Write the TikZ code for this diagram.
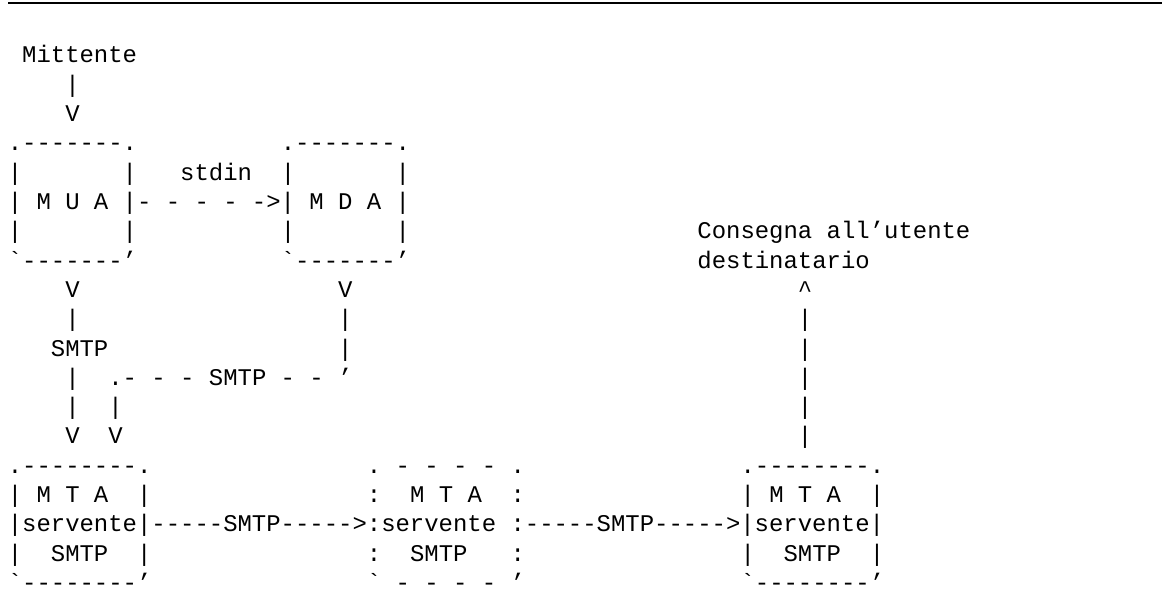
\documentclass[tikz,border=0pt]{standalone}
\usepackage{fontspec}
\setmonofont{Liberation Mono}
\newcommand\tk[4]{\node[txt] (#1) at ({7.8+14.367*#2},{614-63-29.3*(#3-1)}) {#4};}
\begin{document}
\begin{tikzpicture}[x=1pt,y=1pt,
  txt/.style={anchor=base west,inner sep=0pt,outer sep=0pt,
    font=\ttfamily\fontsize{23.94pt}{29.3pt}\selectfont}]
\useasboundingbox (0,0) rectangle (1167,614);
\coordinate (rl) at (8,611);
\coordinate (rr) at (1162,611);
\draw[line width=2pt] (rl) -- (rr);
% row 1-3
\tk{mitt}{1}{1}{Mittente}
\tk{r2a}{4}{2}{|}
\tk{r3a}{4}{3}{V}
% row 4
\tk{muaTop}{0}{4}{.-------.}
\tk{mdaTop}{19}{4}{.-------.}
% row 5
\tk{r5a}{0}{5}{|}
\tk{r5b}{8}{5}{|}
\tk{stdin}{12}{5}{stdin}
\tk{r5c}{19}{5}{|}
\tk{r5d}{27}{5}{|}
% row 6
\tk{r6}{0}{6}{| M U A |- - - - ->| M D A |}
% row 7
\tk{r7a}{0}{7}{|}
\tk{r7b}{8}{7}{|}
\tk{r7c}{19}{7}{|}
\tk{r7d}{27}{7}{|}
\tk{cons}{48}{7}{Consegna all’utente}
% row 8
\tk{muaBot}{0}{8}{`-------’}
\tk{mdaBot}{19}{8}{`-------’}
\tk{dest}{48}{8}{destinatario}
% row 9
\tk{r9a}{4}{9}{V}
\tk{r9b}{23}{9}{V}
\tk{r9c}{55}{9}{\textasciicircum}
% row 10
\tk{r10a}{4}{10}{|}
\tk{r10b}{23}{10}{|}
\tk{r10c}{55}{10}{|}
% row 11
\tk{smtpA}{3}{11}{SMTP}
\tk{r11b}{23}{11}{|}
\tk{r11c}{55}{11}{|}
% row 12
\tk{r12a}{4}{12}{|}
\tk{smtpB}{7}{12}{.- - - SMTP - - ’}
\tk{r12c}{55}{12}{|}
% row 13
\tk{r13a}{4}{13}{|}
\tk{r13b}{7}{13}{|}
\tk{r13c}{55}{13}{|}
% row 14
\tk{r14a}{4}{14}{V}
\tk{r14b}{7}{14}{V}
\tk{r14c}{55}{14}{|}
% row 15
\tk{mta1Top}{0}{15}{.--------.}
\tk{mta2Top}{25}{15}{. - - - - .}
\tk{mta3Top}{51}{15}{.--------.}
% row 16
\tk{r16a}{0}{16}{| M T A}
\tk{r16b}{9}{16}{|}
\tk{r16c}{25}{16}{:}
\tk{r16d}{28}{16}{M T A}
\tk{r16e}{35}{16}{:}
\tk{r16f}{51}{16}{| M T A}
\tk{r16g}{60}{16}{|}
% row 17
\tk{r17}{0}{17}{|servente|-----SMTP----->:servente :-----SMTP----->|servente|}
% row 18
\tk{r18a}{0}{18}{|}
\tk{r18b}{3}{18}{SMTP}
\tk{r18c}{9}{18}{|}
\tk{r18d}{25}{18}{:}
\tk{r18e}{28}{18}{SMTP}
\tk{r18f}{35}{18}{:}
\tk{r18g}{51}{18}{|}
\tk{r18h}{54}{18}{SMTP}
\tk{r18i}{60}{18}{|}
% row 19
\tk{mta1Bot}{0}{19}{`--------’}
\tk{mta2Bot}{25}{19}{` - - - - ’}
\tk{mta3Bot}{51}{19}{`--------’}
\end{tikzpicture}
\end{document}
